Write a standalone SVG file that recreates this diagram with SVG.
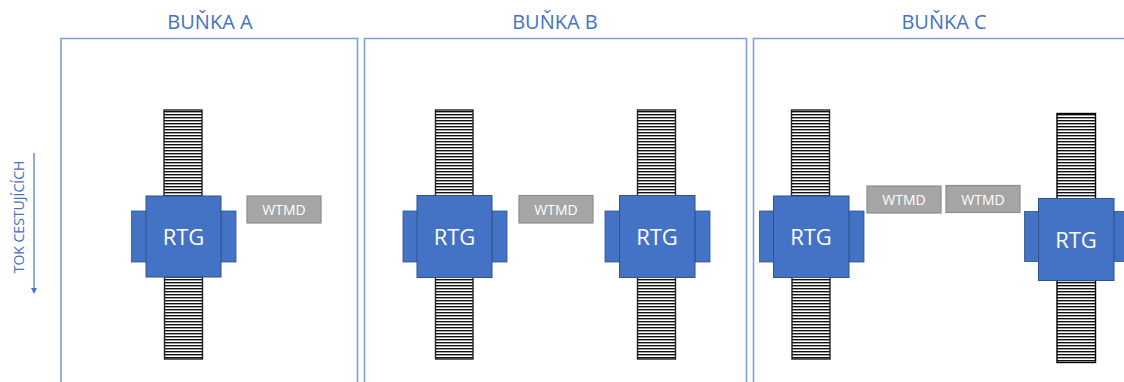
<svg xmlns="http://www.w3.org/2000/svg" width="1124" height="382" viewBox="0 0 1124 382">
<defs>
<pattern id="stripes" patternUnits="userSpaceOnUse" x="0" y="0" width="10" height="3">
<rect width="10" height="3" fill="#ffffff"/>
<rect y="0" width="10" height="1.4" fill="#111111"/>
</pattern>
<marker id="arr" viewBox="0 0 10 10" refX="5" refY="5" markerWidth="5" markerHeight="5" orient="auto">
<path d="M0,0 L10,5 L0,10 z" fill="#4472C4"/>
</marker>
</defs>
<style>
.cell{fill:none;stroke:#7F9FDB;stroke-width:1.6}
.hdr{font-family:"Open Sans","Liberation Sans",sans-serif;font-size:20px;fill:#4472C4;text-anchor:middle}
.lad{fill:url(#stripes);stroke:#222222;stroke-width:1.4}
.tab{fill:#4472C4;stroke:#2F528F;stroke-width:0.8}
.box{fill:#4472C4;stroke:#2F528F;stroke-width:1}
.rtg{font-family:"Open Sans","Liberation Sans",sans-serif;font-size:22px;fill:#ffffff;text-anchor:middle}
.wt{fill:#A5A5A5;stroke:#8C8C8C;stroke-width:1.2}
.wtt{font-family:"Open Sans","Liberation Sans",sans-serif;font-size:14px;fill:#ffffff;text-anchor:middle}
.side{font-family:"Open Sans","Liberation Sans",sans-serif;font-size:14px;fill:#4472C4;text-anchor:middle}
</style>

<g id="cells">
<path class="cell" d="M61,390 V38.5 H357.5 V390"/>
<path class="cell" d="M364.5,390 V38.5 H746.5 V390"/>
<path class="cell" d="M753.5,390 V38.5 H1130"/>
</g>
<g id="headers">
<text class="hdr" x="210" y="29">BUŇKA A</text>
<text class="hdr" x="555" y="29">BUŇKA B</text>
<text class="hdr" x="944" y="29">BUŇKA C</text>
</g>

<g id="flow">
<line x1="34" y1="153" x2="34" y2="291" stroke="#4472C4" stroke-width="1.2" marker-end="url(#arr)"/>
<text class="side" transform="translate(24,217) rotate(-90)">TOK CESTUJÍCÍCH</text>
</g>

<g id="rtg-a">
<rect class="lad" x="164" y="110" width="38" height="86"/>
<rect class="lad" x="164.5" y="277" width="38" height="82"/>
<rect class="tab" x="131.5" y="211" width="15" height="51"/>
<rect class="tab" x="221" y="211" width="15" height="51"/>
<rect class="box" x="146" y="196" width="75" height="81"/>
<text class="rtg" x="183.5" y="245">RTG</text>
</g>
<g id="wtmd-a">
<rect class="wt" x="247" y="196" width="74" height="27"/>
<text class="wtt" x="284" y="214.5">WTMD</text>
</g>

<g id="rtg-b1">
<rect class="lad" x="435.5" y="110" width="37.5" height="86"/>
<rect class="lad" x="435.5" y="277" width="37.5" height="82"/>
<rect class="tab" x="403" y="211" width="15" height="51"/>
<rect class="tab" x="492" y="211" width="15" height="51"/>
<rect class="box" x="417" y="195.5" width="75" height="82"/>
<text class="rtg" x="454.5" y="245">RTG</text>
</g>
<g id="wtmd-b">
<rect class="wt" x="519" y="195.5" width="74" height="27.5"/>
<text class="wtt" x="556" y="214.5">WTMD</text>
</g>
<g id="rtg-b2">
<rect class="lad" x="637.5" y="110" width="38" height="86"/>
<rect class="lad" x="637.5" y="277" width="38" height="82"/>
<rect class="tab" x="605" y="211" width="15" height="51"/>
<rect class="tab" x="695" y="211" width="15" height="51"/>
<rect class="box" x="619.5" y="195.5" width="75.5" height="82"/>
<text class="rtg" x="657" y="245">RTG</text>
</g>

<g id="rtg-c1">
<rect class="lad" x="791.5" y="110" width="38" height="86"/>
<rect class="lad" x="792" y="277" width="38" height="82"/>
<rect class="tab" x="759.5" y="211" width="14" height="51"/>
<rect class="tab" x="849" y="211" width="15" height="51"/>
<rect class="box" x="773.5" y="196" width="75.5" height="81.5"/>
<text class="rtg" x="811" y="245">RTG</text>
</g>
<g id="wtmd-c1">
<rect class="wt" x="867" y="186" width="74" height="27"/>
<text class="wtt" x="904" y="205">WTMD</text>
</g>
<g id="wtmd-c2">
<rect class="wt" x="946" y="185.5" width="74" height="27"/>
<text class="wtt" x="983" y="205">WTMD</text>
</g>
<g id="rtg-c2">
<rect class="lad" x="1057" y="113.5" width="38.5" height="85.5" style="stroke:#000"/>
<rect class="lad" x="1057" y="280.5" width="38.5" height="82" style="stroke:#000"/>
<rect class="tab" x="1024.5" y="211.5" width="14" height="50"/>
<rect class="tab" x="1114" y="211.5" width="15" height="50"/>
<rect class="box" x="1038.5" y="198.5" width="75.5" height="82"/>
<text class="rtg" x="1076" y="248">RTG</text>
</g>
</svg>
